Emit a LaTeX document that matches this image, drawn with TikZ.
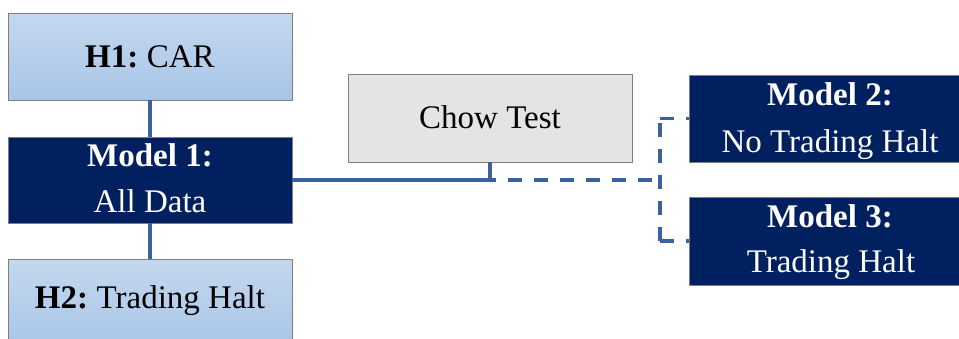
\documentclass[tikz,border=0pt]{standalone}
\usepackage{fontspec}
\setmainfont{Liberation Serif}
\definecolor{navy}{HTML}{002060}
\definecolor{ltop}{HTML}{C4D8EF}
\definecolor{lbot}{HTML}{A8C5E7}
\definecolor{bordergray}{HTML}{7F7F7F}
\definecolor{chowfill}{HTML}{E4E4E4}
\definecolor{linkblue}{HTML}{3B62A0}
\begin{document}
\begin{tikzpicture}[x=1pt,y=-1pt,
  lightbox/.style={draw=bordergray,line width=0.9pt,top color=ltop,bottom color=lbot,inner sep=0pt},
  darkbox/.style={draw=bordergray,line width=0.9pt,fill=navy,inner sep=0pt},
  graybox/.style={draw=bordergray,line width=0.9pt,fill=chowfill,inner sep=0pt},
  lbl/.style={anchor=base,inner sep=0pt,font=\fontsize{33}{40}\selectfont},
  wlbl/.style={lbl,text=white},
  link/.style={draw=linkblue,line width=3.2pt},
  dlink/.style={link,dash pattern=on 14pt off 12pt}
]
\useasboundingbox (0,0) rectangle (959,338);
% boxes
\node[lightbox,minimum width=284pt,minimum height=87pt] (h1) at (150,56.5) {};
\node[darkbox,minimum width=284pt,minimum height=86pt] (m1) at (150,180) {};
\node[lightbox,minimum width=284pt,minimum height=90pt] (h2) at (150,304) {};
\node[graybox,minimum width=284pt,minimum height=88pt] (chow) at (490,118) {};
\node[darkbox,minimum width=284pt,minimum height=87pt] (m2) at (831,118.5) {};
\node[darkbox,minimum width=284pt,minimum height=88pt] (m3) at (831,241) {};
% texts
\node[lbl] (h1t) at (150,67) {\textbf{H1:}\hspace{8.5pt}CAR};
\node[wlbl] (m1a) at (150,166) {\textbf{Model 1:}};
\node[wlbl] (m1b) at (150,212) {All Data};
\node[lbl] (h2t) at (150,308) {\textbf{H2:}\hspace{8.5pt}Trading Halt};
\node[lbl] (chowt) at (490,128) {Chow Test};
\node[wlbl] (m2a) at (830,105) {\textbf{Model 2:}};
\node[wlbl] (m2b) at (830,152) {No Trading Halt};
\node[wlbl] (m3a) at (830,227) {\textbf{Model 3:}};
\node[wlbl] (m3b) at (831,272) {Trading Halt};
% connectors
\coordinate (j) at (chow.south |- m1.east);
\coordinate (k) at (660,180);
\draw[link] (h1.south) -- (m1.north);
\draw[link] (m1.south) -- (h2.north);
\draw[link] (m1.east) -- ([xshift=6pt]j);
\draw[link] (chow.south) -- (j);
\draw[dlink,dash phase=-12pt] ([xshift=6pt]j) -- (k);
\draw[dlink] (k |- m2.west) -- (m2.west);
\draw[dlink] (k |- m3.west) -- (m3.west);
\draw[dlink,dash phase=-4pt] (k |- m2.west) -- (k |- m3.west);
\end{tikzpicture}
\end{document}
